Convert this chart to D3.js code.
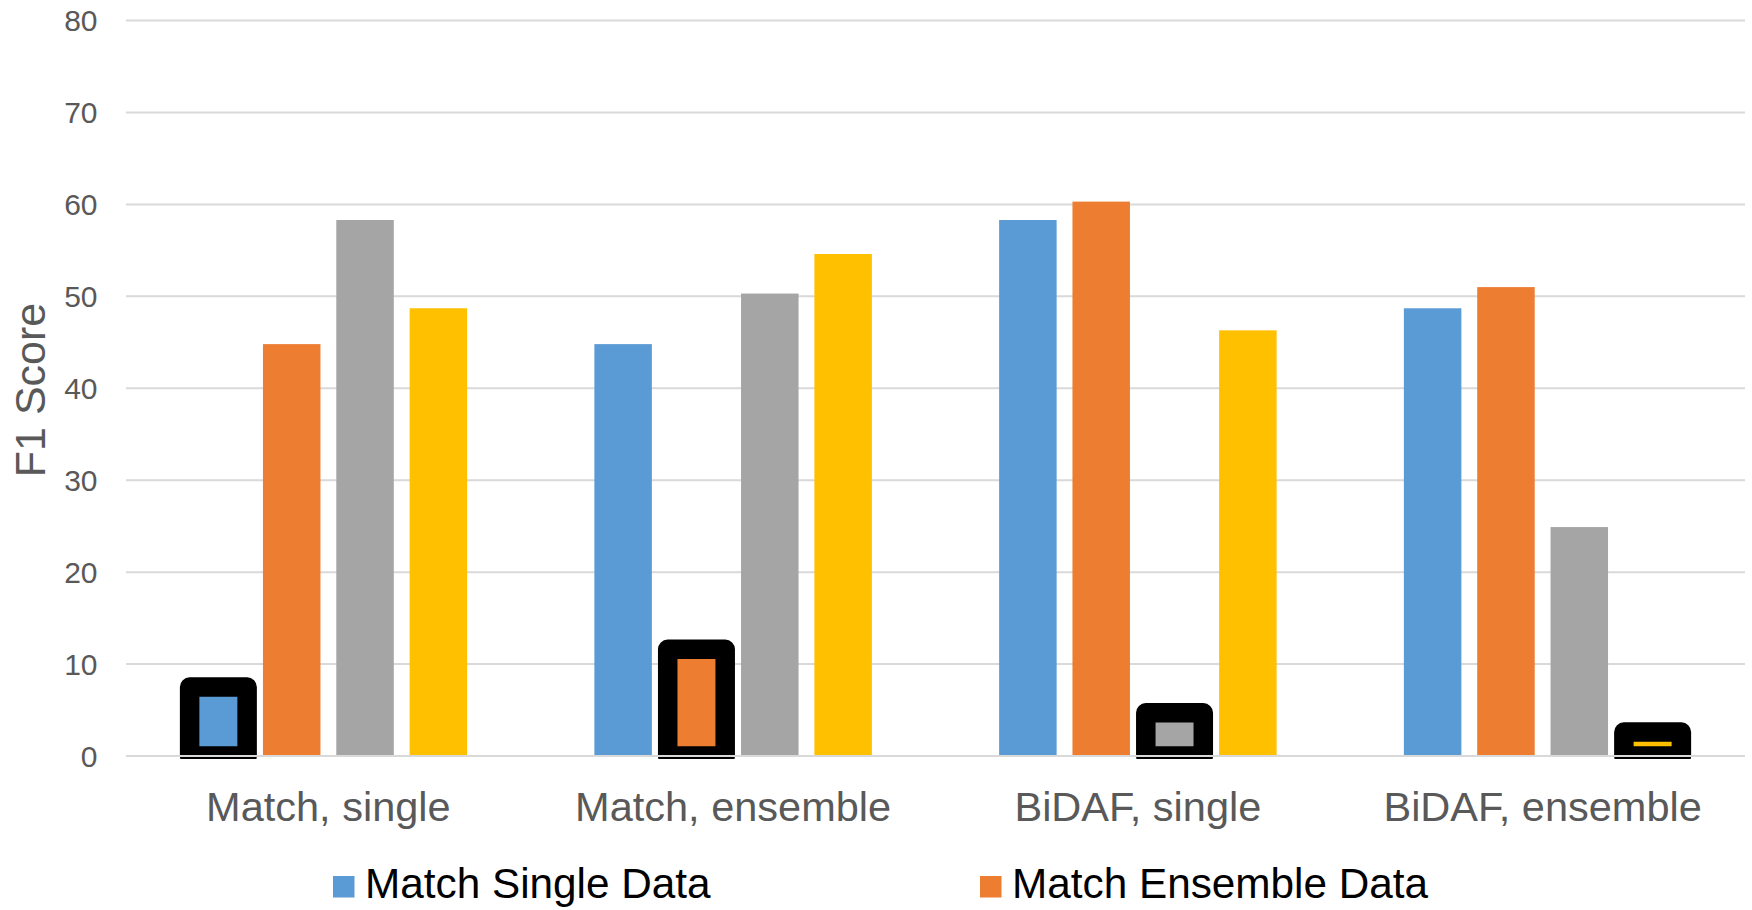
<!DOCTYPE html>
<html>
<head>
<meta charset="utf-8">
<script src="https://cdn.jsdelivr.net/npm/d3@7"></script>
<style>
  html, body { margin: 0; padding: 0; background: #fff; }
  svg { display: block; font-family: "Liberation Sans", Arial, sans-serif; }
</style>
</head>
<body>
<svg id="chart" width="1752" height="910"></svg>
<script>
// Models evaluated
const categories = ["Match, single", "Match, ensemble", "BiDAF, single", "BiDAF, ensemble"];
// Training-data series
const seriesNames = ["Match Single Data", "Match Ensemble Data", "BiDAF Single Data", "BiDAF Ensemble Data"];
// F1 per series, one value per model
const matchSingleData   = [7.5, 44.8, 58.3, 48.7];
const matchEnsembleData = [44.8, 11.6, 60.3, 51.0];
const bidafSingleData   = [58.3, 50.3, 4.7, 24.9];
const bidafEnsembleData = [48.7, 54.6, 46.3, 2.6];
// Series each model was trained on (outlined bar)
const ownSeries = ["Match Single Data", "Match Ensemble Data", "BiDAF Single Data", "BiDAF Ensemble Data"];
const yTicks = [0, 10, 20, 30, 40, 50, 60, 70, 80];
const legendShown = ["Match Single Data", "Match Ensemble Data"];

const colors = ["#5B9BD5", "#ED7D31", "#A5A5A5", "#FFC000"];
const seriesValues = [matchSingleData, matchEnsembleData, bidafSingleData, bidafEnsembleData];

const svg = d3.select("#chart");
const plot = { left: 126, right: 1745, top: 20.5, bottom: 756 };

const y = d3.scaleLinear().domain([0, 80]).range([plot.bottom, plot.top]);
const x0 = d3.scaleBand().domain(categories).range([plot.left, plot.right])
  .paddingInner(0.3144).paddingOuter(0.1572);
const x1 = d3.scaleBand().domain(seriesNames).range([0, x0.bandwidth()]).paddingInner(0.216);
const color = d3.scaleOrdinal().domain(seriesNames).range(colors);

// Gridlines
svg.append("g").selectAll("line").data(yTicks.filter(t => t > 0)).join("line")
  .attr("x1", plot.left).attr("x2", plot.right)
  .attr("y1", d => y(d)).attr("y2", d => y(d))
  .attr("stroke", "#D9D9D9").attr("stroke-width", 2);

// Y tick labels
svg.append("g").selectAll("text").data(yTicks).join("text")
  .attr("x", 97.5).attr("y", d => y(d) + 10.7)
  .attr("text-anchor", "end").attr("font-size", 30).attr("fill", "#595959")
  .text(d => d);

// Y axis title
svg.append("text")
  .attr("transform", "translate(45,390) rotate(-90)")
  .attr("text-anchor", "middle").attr("font-size", 43).attr("fill", "#595959")
  .text("F1 Score");

// Clip so outlines stop just below the axis line
svg.append("defs").append("clipPath").attr("id", "plotClip")
  .append("rect").attr("x", 0).attr("y", 0).attr("width", 1752).attr("height", plot.bottom + 3);

const rows = [];
categories.forEach((c, ci) => {
  seriesNames.forEach((s, si) => {
    rows.push({ cat: c, series: s, value: seriesValues[si][ci], own: ownSeries[ci] === s });
  });
});

const bars = svg.append("g").attr("clip-path", "url(#plotClip)");
bars.selectAll("rect").data(rows).join("rect")
  .attr("x", d => x0(d.cat) + x1(d.series))
  .attr("y", d => y(d.value))
  .attr("width", x1.bandwidth())
  .attr("height", d => y(0) - y(d.value))
  .attr("fill", d => color(d.series))
  .attr("stroke", d => d.own ? "#000" : "none")
  .attr("stroke-width", d => d.own ? 19.5 : 0)
  .attr("stroke-linejoin", "round");

// Horizontal axis line
svg.append("line")
  .attr("x1", plot.left).attr("x2", plot.right)
  .attr("y1", y(0)).attr("y2", y(0))
  .attr("stroke", "#D9D9D9").attr("stroke-width", 2);

// Category labels
svg.append("g").selectAll("text").data(categories).join("text")
  .attr("x", d => x0(d) + x0.bandwidth() / 2).attr("y", 821)
  .attr("text-anchor", "middle").attr("font-size", 41.5).attr("fill", "#595959")
  .text(d => d);

// Legend
const legendX = { "Match Single Data": 333, "Match Ensemble Data": 980 };
const lg = svg.append("g").selectAll("g").data(legendShown).join("g")
  .attr("transform", d => `translate(${legendX[d]},0)`);
lg.append("rect").attr("x", 0).attr("y", 876).attr("width", 21.5).attr("height", 21.5)
  .attr("fill", d => color(d));
lg.append("text").attr("x", 32).attr("y", 898)
  .attr("font-size", 42.3).attr("fill", "#000").text(d => d);
</script>
</body>
</html>
